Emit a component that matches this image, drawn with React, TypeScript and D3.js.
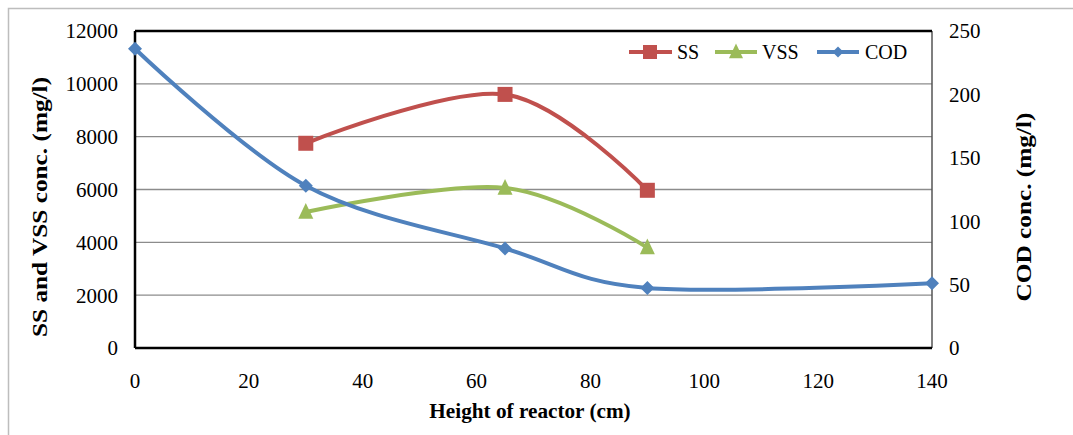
import React from "react";
import * as d3 from "d3";

const ssX = [30, 65, 90];
const ssValues = [7750, 9600, 5970];
const vssX = [30, 65, 90];
const vssValues = [5150, 6060, 3800];
const codX = [0, 30, 65, 90, 140];
const codValues = [236, 128, 78.5, 47.3, 51];
const xTicks = [0, 20, 40, 60, 80, 100, 120, 140];
const leftTicks = [0, 2000, 4000, 6000, 8000, 10000, 12000];
const rightTicks = [0, 50, 100, 150, 200, 250];

const W = 1073, H = 435;
const L = 135, R = 932, T = 31, B = 348;
const SS_C = "#C0504D", VSS_C = "#9BBB59", COD_C = "#4F81BD";
const FONT = "Liberation Serif, DejaVu Serif, serif";

export default function App() {
  const x = d3.scaleLinear().domain([0, 140]).range([L, R]);
  const yL = d3.scaleLinear().domain([0, 12000]).range([B, T]);
  const yR = d3.scaleLinear().domain([0, 250]).range([B, T]);
  const curve = d3.curveCardinal.tension(0);
  const lineL = d3.line<[number, number]>().x(d => x(d[0])).y(d => yL(d[1])).curve(curve);
  const lineR = d3.line<[number, number]>().x(d => x(d[0])).y(d => yR(d[1])).curve(curve);
  const ss = ssX.map((v, i) => [v, ssValues[i]] as [number, number]);
  const vss = vssX.map((v, i) => [v, vssValues[i]] as [number, number]);
  const cod = codX.map((v, i) => [v, codValues[i]] as [number, number]);

  const square = (cx: number, cy: number, s: number, c: string, k: string) => (
    <rect key={k} x={cx - s / 2} y={cy - s / 2} width={s} height={s} fill={c} />
  );
  const tri = (cx: number, cy: number, s: number, c: string, k: string) => (
    <path key={k} d={`M${cx},${cy - s * 0.6}L${cx + s / 2},${cy + s * 0.45}L${cx - s / 2},${cy + s * 0.45}Z`} fill={c} />
  );
  const diamond = (cx: number, cy: number, s: number, c: string, k: string) => (
    <path key={k} d={`M${cx},${cy - s / 2}L${cx + s / 2},${cy}L${cx},${cy + s / 2}L${cx - s / 2},${cy}Z`} fill={c} />
  );

  return (
    <svg width={W} height={H} style={{ position: "absolute", left: 0, top: 0, background: "#fff", fontFamily: FONT }}>
      <rect x={8.5} y={8.5} width={1080} height={440} fill="none" stroke="#bdbdbd" strokeWidth={1.5} />
      {leftTicks.filter(t => t > 0 && t < 12000).map(t => (
        <line key={"g" + t} x1={L} x2={R} y1={yL(t)} y2={yL(t)} stroke="#8c8c8c" strokeWidth={1.3} />
      ))}
      <line x1={R} x2={R} y1={T} y2={B} stroke="#555" strokeWidth={1.5} />
      <line x1={L} x2={R} y1={T} y2={T} stroke="#000" strokeWidth={2.5} />
      <line x1={L} x2={R} y1={B} y2={B} stroke="#000" strokeWidth={2.5} />
      <line x1={L} x2={L} y1={T} y2={B} stroke="#000" strokeWidth={2.5} />

      {leftTicks.map(t => (
        <text key={"l" + t} x={118} y={yL(t)} dy="0.35em" textAnchor="end" fontSize={21}>{t}</text>
      ))}
      {rightTicks.map(t => (
        <text key={"r" + t} x={949} y={yR(t)} dy="0.35em" textAnchor="start" fontSize={21}>{t}</text>
      ))}
      {xTicks.map(t => (
        <text key={"x" + t} x={x(t)} y={388} textAnchor="middle" fontSize={21}>{t}</text>
      ))}
      <text textAnchor="middle" fontSize={22} fontWeight="bold" transform="translate(530,418) scale(0.965,1)">Height of reactor (cm)</text>
      <text transform={`translate(47,207) rotate(-90) scale(1.15,1)`} textAnchor="middle" fontSize={22} fontWeight="bold">SS and VSS conc. (mg/l)</text>
      <text transform={`translate(1031,207) rotate(-90) scale(1.15,1)`} textAnchor="middle" fontSize={22} fontWeight="bold">COD conc. (mg/l)</text>

      <path d={lineL(ss) || ""} fill="none" stroke={SS_C} strokeWidth={4} />
      <path d={lineL(vss) || ""} fill="none" stroke={VSS_C} strokeWidth={4} />
      <path d={lineR(cod) || ""} fill="none" stroke={COD_C} strokeWidth={4} />
      {ss.map((d, i) => square(x(d[0]), yL(d[1]), 15, SS_C, "s" + i))}
      {vss.map((d, i) => tri(x(d[0]), yL(d[1]), 15, VSS_C, "v" + i))}
      {cod.map((d, i) => diamond(x(d[0]), yR(d[1]), 14, COD_C, "c" + i))}

      <g fontSize={20}>
        <line x1={629} x2={672} y1={52} y2={52} stroke={SS_C} strokeWidth={4} />
        {square(650, 52, 14, SS_C, "ls")}
        <text x={677} y={52} dy="0.35em">SS</text>
        <line x1={715} x2={757} y1={52} y2={52} stroke={VSS_C} strokeWidth={4} />
        {tri(736, 52, 14, VSS_C, "lv")}
        <text x={762} y={52} dy="0.35em">VSS</text>
        <line x1={817} x2={859} y1={52} y2={52} stroke={COD_C} strokeWidth={4} />
        {diamond(838, 52, 11, COD_C, "lc")}
        <text x={865} y={52} dy="0.35em">COD</text>
      </g>
    </svg>
  );
}
